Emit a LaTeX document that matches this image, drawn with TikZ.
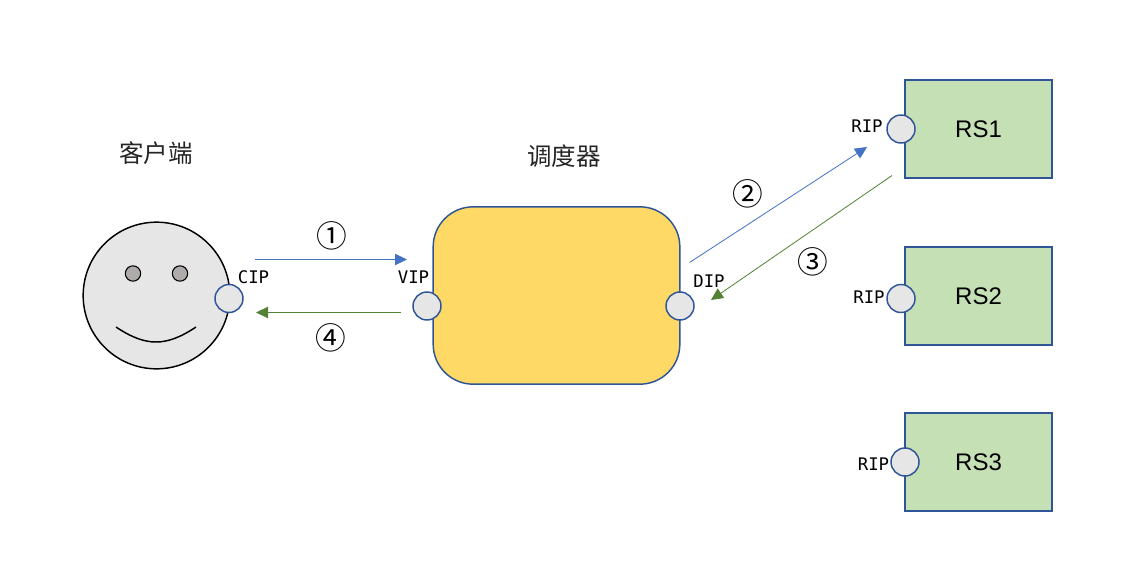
\documentclass[tikz,border=0pt]{standalone}
\usepackage{fontspec}
\setmainfont{Liberation Sans}
\newfontfamily\cjk{Noto Sans CJK SC}
\newfontfamily\monof{DejaVu Sans Mono}
\usetikzlibrary{arrows.meta}
\definecolor{edgeblue}{HTML}{2F5597}
\definecolor{arrowblue}{HTML}{4472C4}
\definecolor{arrowgreen}{HTML}{548235}
\definecolor{facegray}{HTML}{E7E6E6}
\definecolor{eyegray}{HTML}{AFABAB}
\definecolor{boxyellow}{HTML}{FFD966}
\definecolor{boxgreen}{HTML}{C5E0B4}
\tikzset{
  x=0.75pt,y=-0.75pt,
  port/.style={circle,draw=edgeblue,line width=1.1pt,fill=facegray,minimum size=21pt,inner sep=0pt},
  rsbox/.style={rectangle,draw=edgeblue,line width=1.1pt,fill=boxgreen,minimum width=110.5pt,minimum height=73.5pt,inner sep=0pt,font=\fontsize{18}{20}\selectfont},
  title/.style={font=\cjk\fontsize{18.4}{20}\selectfont,text=black!85,inner sep=0pt},
  num/.style={font=\cjk\fontsize{23}{24}\selectfont,inner sep=0pt},
  iplabel/.style={font=\monof\fontsize{13}{14}\selectfont,inner sep=0pt},
  eye/.style={circle,draw=black,line width=0.8pt,fill=eyegray,minimum size=11.5pt,inner sep=0pt},
  flowblue/.style={draw=arrowblue,line width=0.6pt,-{Triangle[length=9pt,width=8.5pt,fill=arrowblue]}},
  flowgreen/.style={draw=arrowgreen,line width=0.6pt,-{Triangle[length=9pt,width=8.5pt,fill=arrowgreen]}},
}
\begin{document}
\begin{tikzpicture}
\useasboundingbox (0,0) rectangle (1126,574);
\fill[white] (0,0) rectangle (1126,574);
% client
\node[circle,draw=black,line width=1.1pt,fill=facegray,minimum size=110pt,inner sep=0pt] (face) at (156.5,295.5) {};
\node[eye] (eyeL) at (133,273.5) {};
\node[eye] (eyeR) at (180,273.5) {};
\draw[black,line width=1.1pt] (116,327) .. controls (146,347) and (166,347) .. (196,327);
\node[port] (cipport) at (229,298.5) {};
\node[title] (clienttitle) at (156,153) {客户端};
\node[iplabel] (cip) at (253.5,277) {CIP};
% scheduler
\node[rectangle,rounded corners=30pt,draw=edgeblue,line width=1.1pt,fill=boxyellow,minimum width=185pt,minimum height=133pt,inner sep=0pt] (sched) at (556.5,295.5) {};
\node[port] (vipport) at (427,306) {};
\node[port] (dipport) at (680,306) {};
\node[title] (schedtitle) at (564,156) {调度器};
\node[iplabel] (vip) at (413.5,277) {VIP};
\node[iplabel] (dip) at (709,281) {DIP};
% servers
\node[rsbox] (rs1) at (978.5,129) {RS1};
\node[rsbox] (rs2) at (978.5,296) {RS2};
\node[rsbox] (rs3) at (978.5,462) {RS3};
\node[port] (rip1) at (901,129) {};
\node[port] (rip2) at (901,298.5) {};
\node[port] (rip3) at (905,462) {};
\node[iplabel] (rip1t) at (867,126.5) {RIP};
\node[iplabel] (rip2t) at (869,297.5) {RIP};
\node[iplabel] (rip3t) at (873.5,464.5) {RIP};
% arrow ends
\coordinate (a1s) at (254.5,259.5);
\coordinate (a1e) at (407,259.5);
\coordinate (a4s) at (401,312.5);
\coordinate (a4e) at (256,312.5);
\coordinate (a2s) at (689.5,262.5);
\coordinate (a2e) at (867,147);
\coordinate (a3s) at (892,175.5);
\coordinate (a3e) at (711,300);
\draw[flowblue] (a1s) -- (a1e);
\draw[flowgreen] (a4s) -- (a4e);
\draw[flowblue] (a2s) -- (a2e);
\draw[flowgreen] (a3s) -- (a3e);
% numbers
\node[num] (n1) at (332,236) {①};
\node[num] (n4) at (331,338) {④};
\node[num] (n2) at (748,194) {②};
\node[num] (n3) at (813,262) {③};
\end{tikzpicture}
\end{document}
